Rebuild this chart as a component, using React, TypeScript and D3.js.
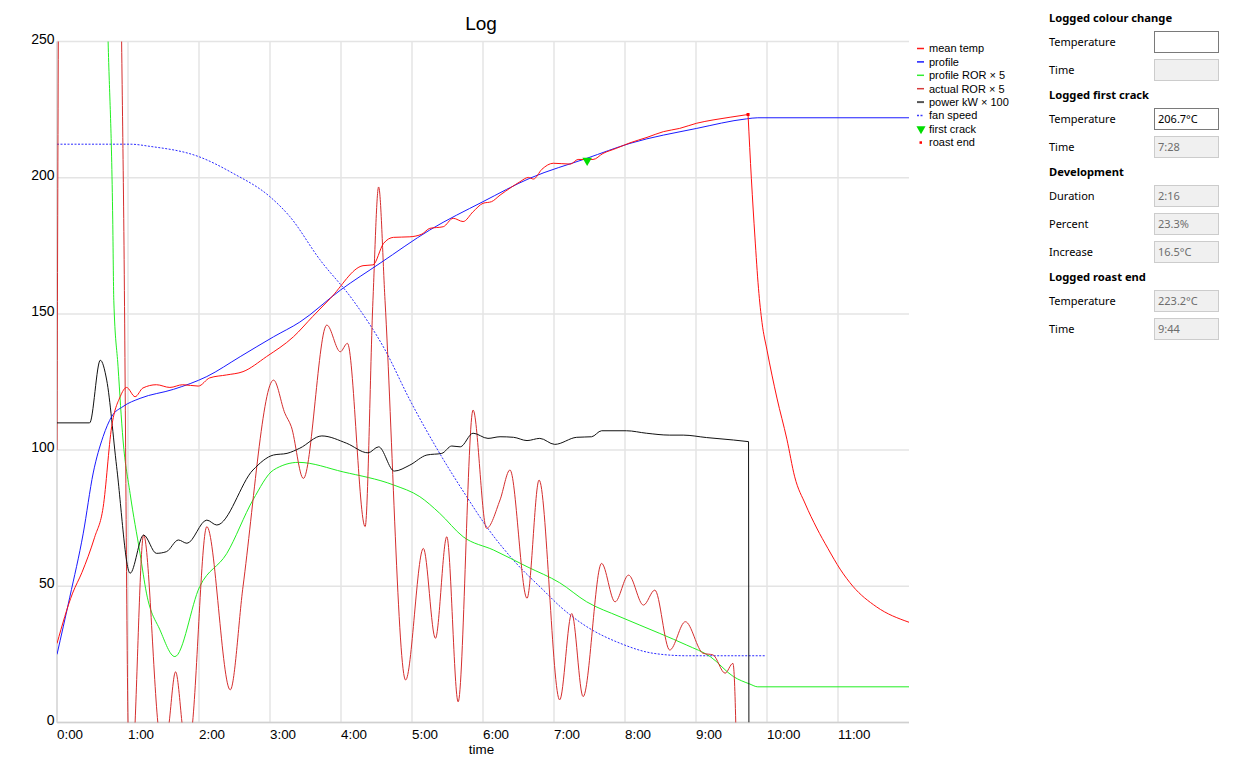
import React from 'react';
import * as d3 from 'd3';

type Pt = [number, number];

// time in minutes, value as plotted
const meanTemp: Pt[] = [
  [0, 29], [0.22, 47.5], [0.35, 55], [0.53, 68], [0.65, 79], [0.77, 108.6], [0.89, 119.6],
  [0.98, 123], [1.1, 119.6], [1.21, 122.8], [1.4, 124], [1.59, 123], [1.77, 124], [1.99, 123.5],
  [2.15, 126.5], [2.39, 127.6], [2.62, 128.8], [2.95, 134.3], [3.33, 141.6], [3.6, 149],
  [3.85, 155.7], [4.31, 167.7], [4.45, 168], [4.6, 175.9], [4.74, 178.1], [4.97, 178.3],
  [5.14, 179.3], [5.25, 181.4], [5.44, 182], [5.58, 185.1], [5.72, 183.9], [5.86, 187.5],
  [6.0, 190.6], [6.12, 191.2], [6.24, 193.6], [6.4, 196.5], [6.52, 198.5], [6.64, 200.1],
  [6.71, 199.5], [6.83, 203.1], [6.99, 205.3], [7.23, 205], [7.34, 206.7], [7.55, 206.7],
  [7.69, 208.9], [7.88, 210.8], [8.07, 212.8], [8.31, 214.8], [8.54, 216.9], [8.77, 218.1],
  [9.01, 220], [9.24, 221.2], [9.48, 222.2], [9.733, 223.2], [9.78, 199.6], [9.83, 178.2],
  [9.88, 159.4], [9.93, 146.8], [10.0, 136.7], [10.14, 119.1], [10.28, 104], [10.39, 90.2],
  [10.54, 80.2], [10.7, 71.4], [10.86, 63.8], [11.03, 56.3], [11.21, 50], [11.54, 42.5],
  [12.0, 36.8],
];

const profile: Pt[] = [
  [0, 25], [0.18, 46], [0.37, 69.5], [0.51, 91.6], [0.65, 105], [0.77, 112.3], [0.93, 116],
  [1.17, 119], [1.64, 122.3], [2.11, 127], [2.58, 134.3], [3.05, 141.6], [3.42, 147],
  [3.99, 158.7], [4.55, 168.6], [5.25, 180.8], [6.0, 191.2], [6.66, 199.8], [7.46, 207.1],
  [8.07, 212.6], [9.01, 218.1], [9.71, 221.6], [9.87, 222], [12.0, 222],
];

const profileRor: Pt[] = [
  [0.6, 380], [0.72, 250], [0.785, 184.5], [0.8, 155], [0.86, 130.6], [0.93, 103.7],
  [1.03, 84], [1.17, 62], [1.26, 47.5], [1.45, 34], [1.66, 24.2], [2.01, 49.9], [2.39, 62],
  [2.76, 81.7], [3.05, 92.7], [3.4, 95.5], [4.03, 92], [4.74, 87.2], [5.11, 82.9],
  [5.39, 76.8], [5.72, 68.2], [6.15, 63.3], [6.62, 57.2], [7.08, 51.3], [7.46, 44.3],
  [7.93, 38.8], [8.49, 32.7], [8.87, 28.4], [9.2, 24.2], [9.53, 16.8], [9.76, 14.1],
  [9.87, 13.1], [12.0, 13.1],
];

const actualRor: Pt[] = [
  [0, 100], [0.02, 260], [0.05, 380], [0.85, 380], [0.91, 250], [0.94, 185], [1.0, 0],
  [1.04, -40], [1.1, 0], [1.22, 68.8], [1.42, 0], [1.5, -20], [1.58, 0], [1.67, 18.6],
  [1.76, 0], [1.83, -20], [1.91, 0], [2.11, 71.9], [2.44, 12], [2.62, 49.9], [3.05, 125.7],
  [3.21, 113.5], [3.3, 108.6], [3.47, 89.6], [3.8, 145.9], [3.99, 136.1], [4.09, 139.2],
  [4.34, 71.9], [4.45, 155], [4.53, 196.6], [4.62, 155], [4.91, 15.6], [5.16, 63.9],
  [5.33, 30.9], [5.49, 68.2], [5.65, 7.6], [5.86, 114.7], [6.05, 71.3], [6.24, 81.7],
  [6.38, 92.7], [6.62, 45.6], [6.79, 89], [7.08, 8.3], [7.25, 40], [7.41, 9.5], [7.67, 58.4],
  [7.86, 44.3], [8.05, 54.1], [8.26, 43.1], [8.42, 48.6], [8.63, 26.6], [8.85, 37],
  [9.1, 25.4], [9.24, 24.8], [9.41, 18.1], [9.52, 21.7], [9.56, 0], [9.62, -120],
];

const power: Pt[] = [
  [0, 110], [0.46, 110], [0.61, 133], [0.7, 125.7], [0.84, 93.9], [1.03, 54.8], [1.22, 68.8],
  [1.4, 62.1], [1.54, 62.7], [1.71, 67], [1.83, 65.8], [2.11, 74.3], [2.25, 72.5],
  [2.76, 92.7], [3.05, 98.2], [3.24, 98.8], [3.42, 100.7], [3.73, 105.2], [4.08, 102.5],
  [4.38, 99], [4.53, 101.2], [4.75, 92.3], [4.97, 94.5], [5.21, 98.2], [5.42, 98.8],
  [5.56, 101.5], [5.68, 101.2], [5.86, 106.2], [6.07, 104.3], [6.24, 104.9], [6.43, 104.7],
  [6.62, 103.5], [6.8, 104.3], [7.01, 102.1], [7.32, 104.7], [7.53, 104.9], [7.67, 107.1],
  [8.02, 107.1], [8.3, 106.2], [8.63, 105.5], [8.82, 105.5], [9.15, 104.6], [9.53, 103.7],
  [9.74, 103.1],
];
const powerOff: Pt = [9.745, 0];

const fanSpeed: Pt[] = [
  [0, 212.3], [1.03, 212.3], [1.31, 211.5], [2.0, 207.7], [2.48, 201.6], [3.0, 193],
  [3.28, 185.7], [3.7, 170], [4.17, 155], [4.62, 136.8], [4.97, 118.4], [5.39, 98.8],
  [5.77, 82.9], [6.05, 71.9], [6.47, 58.4], [6.85, 48.6], [7.09, 42.5], [7.46, 35.2],
  [7.93, 29.1], [8.4, 25.4], [8.87, 24.5], [9.97, 24.5],
];

const firstCrack: Pt = [7.467, 206.7];
const roastEnd: Pt = [9.733, 223.2];

const yTicks = [0, 50, 100, 150, 200, 250];
const xTicks = [0, 1, 2, 3, 4, 5, 6, 7, 8, 9, 10, 11];

const legendNames = ['mean temp', 'profile', 'profile ROR \u00d7 5', 'actual ROR \u00d7 5', 'power kW \u00d7 100', 'fan speed', 'first crack', 'roast end'];
const legendColors = ['#ff1a1a', '#1a1aff', '#33ee33', '#d63a3a', '#555555', '#3a3aff', '#00dd00', '#ff0000'];

const panelHeadings = ['Logged colour change', 'Logged first crack', 'Development', 'Logged roast end'];
const panelLabels = [
  ['Temperature', 'Time'],
  ['Temperature', 'Time'],
  ['Duration', 'Percent', 'Increase'],
  ['Temperature', 'Time'],
];
const panelValues = [
  ['', ''],
  ['206.7\u00b0C', '7:28'],
  ['2:16', '23.3%', '16.5\u00b0C'],
  ['223.2\u00b0C', '9:44'],
];
const panelEditable = [
  [true, false],
  [true, false],
  [false, false, false],
  [false, false],
];

const chartFont = '"Liberation Sans", Arial, sans-serif';
const panelFont = '"Noto Sans", "Open Sans", sans-serif';

export default function App() {
  const left = 57, right = 909, top = 41.5, bottom = 722.5;
  const x = d3.scaleLinear().domain([0, 12]).range([left, right]);
  const y = d3.scaleLinear().domain([0, 250]).range([bottom, top]);

  const line = d3.line<Pt>().x(d => x(d[0])).y(d => y(d[1])).curve(d3.curveMonotoneX);

  const legendY = (i: number) => 48.5 + i * 13.4;

  // right panel layout
  const rows: React.ReactNode[] = [];
  let cy = 18;
  panelHeadings.forEach((h, gi) => {
    rows.push(
      <text key={'h' + gi} x={1049} y={cy} dy="0.35em" fontFamily={panelFont} fontSize={11.2} fontWeight="bold" fill="#000">{h}</text>
    );
    cy += 24;
    panelLabels[gi].forEach((lab, ri) => {
      const editable = panelEditable[gi][ri];
      rows.push(
        <g key={`r${gi}-${ri}`}>
          <text x={1049} y={cy} dy="0.35em" fontFamily={panelFont} fontSize={11} fill="#000">{lab}</text>
          <rect x={1154.5} y={cy - 10.5} width={64} height={21}
            fill={editable ? '#ffffff' : '#f0f0f0'} stroke={editable ? '#7a7a7a' : '#cccccc'} />
          <text x={1158} y={cy} dy="0.35em" fontFamily={panelFont} fontSize={11} fill={editable ? '#000' : '#6d6d6d'}>{panelValues[gi][ri]}</text>
        </g>
      );
      cy += 28;
    });
    cy -= 3;
  });

  const powerPath = (line(power) || '') + `L${x(powerOff[0])},${y(powerOff[1])}`;

  return (
    <svg width={1244} height={768} style={{ position: 'absolute', left: 0, top: 0, background: '#fff' }}>
      <defs>
        <clipPath id="plot">
          <rect x={left} y={top} width={right - left} height={bottom - top} />
        </clipPath>
      </defs>

      <text x={481} y={30} textAnchor="middle" fontFamily={chartFont} fontSize={19} fill="#000">Log</text>

      {/* grid */}
      {yTicks.map(t => (
        <line key={'gy' + t} x1={left} x2={right} y1={y(t)} y2={y(t)} stroke="#e4e4e4" strokeWidth={1.5} />
      ))}
      {xTicks.map(t => (
        <line key={'gx' + t} x1={x(t)} x2={x(t)} y1={top} y2={bottom} stroke="#e4e4e4" strokeWidth={1.5} />
      ))}
      <line x1={left} x2={left} y1={top} y2={bottom} stroke="#d8d8d8" strokeWidth={1.5} />
      <line x1={left} x2={right} y1={bottom} y2={bottom} stroke="#d0d0d0" strokeWidth={1.5} />

      {yTicks.map(t => (
        <text key={'ty' + t} x={54.5} y={y(t) + 2} textAnchor="end" fontFamily={chartFont} fontSize={14} fill="#000">{t}</text>
      ))}
      {xTicks.map(t => (
        <text key={'tx' + t} x={x(t)} y={738.5} textAnchor="start" fontFamily={chartFont} fontSize={13.4} fill="#000">{`${t}:00`}</text>
      ))}
      <text x={481.5} y={753.5} textAnchor="middle" fontFamily={chartFont} fontSize={13.4} fill="#000">time</text>

      <g clipPath="url(#plot)" fill="none">
        <path d={line(fanSpeed) || ''} stroke="#2a2aff" strokeWidth={1} strokeDasharray="2,1.5" />
        <path d={line(profileRor) || ''} stroke="#22ee22" strokeWidth={1} />
        <path d={line(actualRor) || ''} stroke="#d42e2e" strokeWidth={1} />
        <path d={powerPath} stroke="#111" strokeWidth={1} />
        <path d={line(profile) || ''} stroke="#1a1aff" strokeWidth={1} />
        <path d={line(meanTemp.slice(0, 54)) || ''} stroke="#ff1010" strokeWidth={1} />
        <path d={line(meanTemp.slice(53)) || ''} stroke="#ff1010" strokeWidth={1} />
        <path d={d3.symbol(d3.symbolTriangle, 40)() || ''} transform={`translate(${x(firstCrack[0])},${y(firstCrack[1]) + 1}) rotate(180)`} fill="#00dd00" />
        <rect x={x(roastEnd[0]) - 1.5} y={y(roastEnd[1]) - 1.5} width={3} height={3} fill="#ff0000" />
      </g>

      {/* legend */}
      {legendNames.map((n, i) => {
        const ly = legendY(i);
        let marker: React.ReactNode;
        if (i === 6) {
          marker = <path d={d3.symbol(d3.symbolTriangle, 36)() || ''} transform={`translate(921,${ly}) rotate(180)`} fill={legendColors[i]} />;
        } else if (i === 7) {
          marker = <rect x={919.5} y={ly - 1} width={2.5} height={2.5} fill={legendColors[i]} />;
        } else {
          marker = <line x1={917} x2={924} y1={ly} y2={ly} stroke={legendColors[i]} strokeWidth={i === 4 ? 2 : 1.5} strokeDasharray={i === 5 ? '2,1.5' : undefined} />;
        }
        return (
          <g key={'lg' + i}>
            {marker}
            <text x={929} y={ly} dy="0.35em" fontFamily={chartFont} fontSize={11} fill="#000">{n}</text>
          </g>
        );
      })}

      {rows}
    </svg>
  );
}
